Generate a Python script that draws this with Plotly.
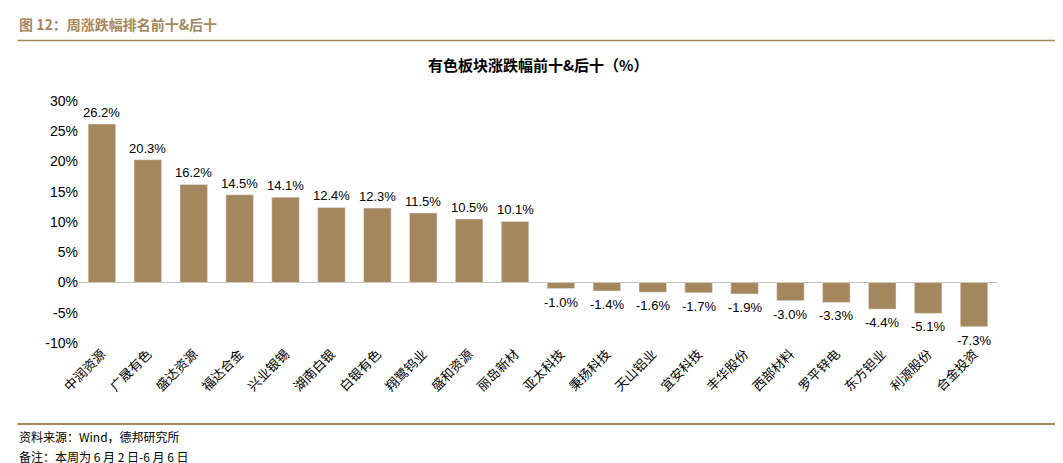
from plotly import graph_objects as go

names = ['中润资源', '广晟有色', '盛达资源', '福达合金', '兴业银锡', '湖南白银', '白银有色', '翔鹭钨业', '盛和资源', '丽岛新材',
         '亚太科技', '秉扬科技', '天山铝业', '宜安科技', '丰华股份', '西部材料', '罗平锌电', '东方钽业', '利源股份', '合金投资']
values = [26.2, 20.3, 16.2, 14.5, 14.1, 12.4, 12.3, 11.5, 10.5, 10.1,
          -1.0, -1.4, -1.6, -1.7, -1.9, -3.0, -3.3, -4.4, -5.1, -7.3]
yticks = [30, 25, 20, 15, 10, 5, 0, -5, -10]

brown = '#A5875E'
font = 'Noto Sans CJK SC'

fig = go.Figure()
fig.add_trace(go.Bar(x=names, y=values, marker=dict(color=brown), width=0.6))

# value labels as annotations so they keep their size
for n, v in zip(names, values):
    fig.add_annotation(x=n, y=v, text=f'{v:.1f}%', showarrow=False,
                       yanchor='bottom' if v >= 0 else 'top', yshift=2 if v >= 0 else -4,
                       font=dict(size=13, family='Liberation Sans', color='black'))

fig.update_layout(
    width=1063, height=463, plot_bgcolor='white', paper_bgcolor='white',
    margin=dict(l=71, r=74, t=93, b=128), showlegend=False,
    xaxis=dict(tickangle=-45, tickfont=dict(size=13, family=font, color='black'),
               showline=False, ticks=''),
    yaxis=dict(range=[-10, 30], tickvals=yticks, ticktext=[f'{t}%' for t in yticks],
               tickfont=dict(size=14, family='Liberation Sans', color='black'),
               showgrid=False, zeroline=True, zerolinecolor='#bfbfbf', zerolinewidth=1,
               showline=False, automargin=False),
    shapes=[
        dict(type='line', xref='paper', yref='paper', x0=-0.067, x1=1.08, y0=1.25, y1=1.25,
             line=dict(color=brown, width=1.5)),
        dict(type='line', xref='paper', yref='paper', x0=-0.067, x1=1.08, y0=-0.335, y1=-0.335,
             line=dict(color=brown, width=2)),
    ],
    annotations=list(fig.layout.annotations) + [
        dict(text='<b>图 12：周涨跌幅排名前十&后十</b>', xref='paper', yref='paper', x=-0.067, y=1.27,
             xanchor='left', yanchor='bottom', showarrow=False,
             font=dict(size=14, family=font, color=brown)),
        dict(text='<b>有色板块涨跌幅前十&后十（%）</b>', xref='paper', yref='paper', x=0.5, y=1.10,
             xanchor='center', yanchor='bottom', showarrow=False,
             font=dict(size=15, family=font, color='black')),
        dict(text='资料来源：Wind，德邦研究所', xref='paper', yref='paper', x=-0.067, y=-0.345,
             xanchor='left', yanchor='top', showarrow=False,
             font=dict(size=12, family=font, color='black')),
        dict(text='备注：本周为 6 月 2 日-6 月 6 日', xref='paper', yref='paper', x=-0.067, y=-0.425,
             xanchor='left', yanchor='top', showarrow=False,
             font=dict(size=12, family=font, color='black')),
    ],
)

fig.write_html('out.html')
